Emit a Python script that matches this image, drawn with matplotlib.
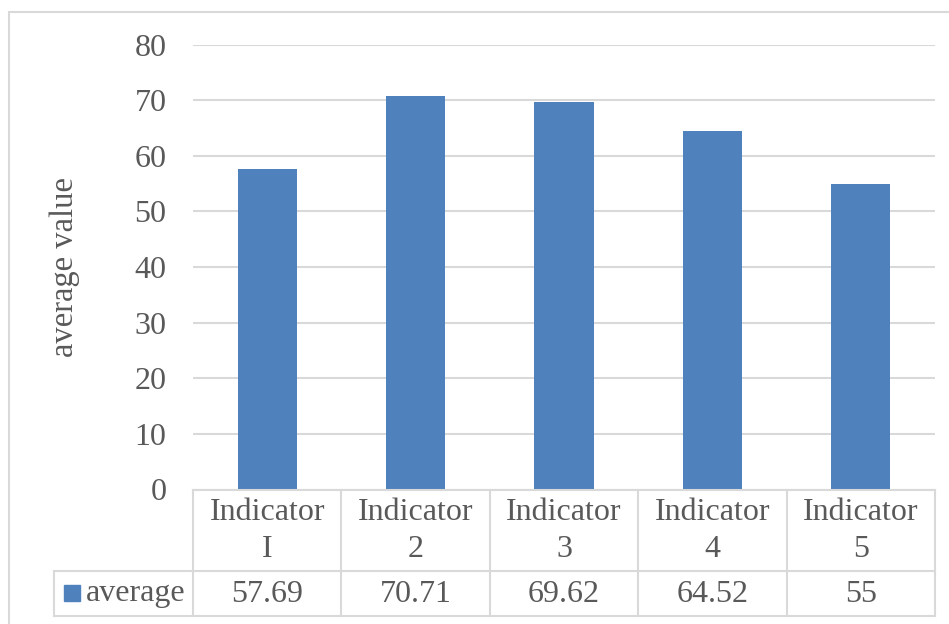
import matplotlib.pyplot as plt
from matplotlib.lines import Line2D
from matplotlib.patches import Rectangle

categories = ["Indicator\nI", "Indicator\n2", "Indicator\n3", "Indicator\n4", "Indicator\n5"]
values = [57.69, 70.71, 69.62, 64.52, 55]
value_labels = ["57.69", "70.71", "69.62", "64.52", "55"]
series_name = "average"
yticks = [0, 10, 20, 30, 40, 50, 60, 70, 80]

W, H = 949, 624
bar_color = "#4F81BD"
text_color = "#595959"
line_color = "#D9D9D9"
fs = 23

plt.rcParams['font.family'] = ['Liberation Serif', 'DejaVu Serif']

fig = plt.figure(figsize=(W / 100, H / 100), dpi=100)

# pixel helpers (y measured from top)
def fx(x):
    return x / W

def fy(y):
    return 1 - y / H

left, right, top, bottom = 193, 935, 44.6, 489.5
ax = fig.add_axes([fx(left), fy(bottom), fx(right - left), (bottom - top) / H])
ax.bar(range(len(values)), values, width=0.4, color=bar_color, zorder=3)
ax.set_xlim(-0.5, len(values) - 0.5)
ax.set_ylim(0, 80)
ax.set_yticks(yticks)
ax.set_xticks([])
ax.tick_params(axis='y', length=0, pad=19, labelsize=fs, labelcolor=text_color)
ax.grid(axis='y', color=line_color, linewidth=1.5, zorder=0)
for s in ax.spines.values():
    s.set_visible(False)
ax.set_ylabel("average value", fontsize=23.5, color=text_color)
ax.yaxis.set_label_coords((80 - left) / (right - left), 0.5)

# outer chart border
fig.patches.append(Rectangle((fx(9), fy(640)), fx(960 - 9), (640 - 12) / H,
                             transform=fig.transFigure, fill=False,
                             edgecolor=line_color, linewidth=1.5))

# data table lines
col_w = (right - left) / len(values)
row_top, row_mid, row_bot = bottom, 571, 616
tab_left = 54

def hline(x0, x1, y):
    fig.add_artist(Line2D([fx(x0), fx(x1)], [fy(y), fy(y)], color=line_color, linewidth=1.5))

def vline(x, y0, y1):
    fig.add_artist(Line2D([fx(x), fx(x)], [fy(y0), fy(y1)], color=line_color, linewidth=1.5))

hline(left, right, row_top)
hline(tab_left, right, row_mid)
hline(tab_left, right, row_bot)
vline(tab_left, row_mid, row_bot)
for i in range(len(values) + 1):
    vline(left + i * col_w, row_top, row_bot)

for i, (cat, lab) in enumerate(zip(categories, value_labels)):
    cx = left + (i + 0.5) * col_w
    fig.text(fx(cx), fy(531), cat, ha='center', va='center',
             fontsize=fs, color=text_color, linespacing=1.32)
    fig.text(fx(cx), fy(594), lab, ha='center', va='center',
             fontsize=fs, color=text_color)

# legend key in table
fig.patches.append(Rectangle((fx(64), fy(601)), fx(16), 16 / H,
                             transform=fig.transFigure, color=bar_color))
fig.text(fx(86), fy(594), series_name, ha='left', va='center',
         fontsize=fs, color=text_color)

fig.savefig("out.png", dpi=100)
